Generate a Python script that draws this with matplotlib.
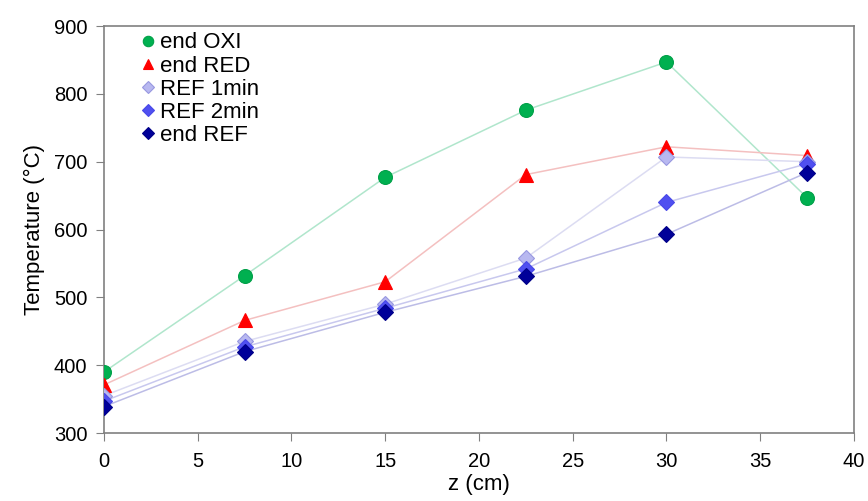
import matplotlib
matplotlib.use("Agg")
import matplotlib.pyplot as plt

plt.rcParams['font.family'] = ['Liberation Sans', 'DejaVu Sans']

z_cm = [0, 7.5, 15, 22.5, 30, 37.5]
end_oxi = [390, 532, 677, 776, 847, 647]
end_red = [371, 466, 523, 681, 722, 709]
ref_1min = [355, 435, 490, 558, 707, 700]
ref_2min = [347, 427, 484, 542, 640, 697]
end_ref = [339, 420, 478, 531, 593, 684]

series = [
    ('end OXI', end_oxi, 'o', '#00b050', '#00a048', '#b0e6cc', 10),
    ('end RED', end_red, '^', '#ff0000', '#ff0000', '#f4c0c0', 10),
    ('REF 1min', ref_1min, 'D', '#b8b8f0', '#9898e0', '#dcdcf2', 8),
    ('REF 2min', ref_2min, 'D', '#5050f0', '#4848e8', '#c8c8ee', 8),
    ('end REF', end_ref, 'D', '#000099', '#000088', '#bcbce6', 8),
]

fig = plt.figure(figsize=(8.68, 5.01), dpi=100)
ax = fig.add_axes([0.1198, 0.1357, 0.864, 0.8123])

for label, vals, mk, fc, ec, lc, ms in series:
    ax.plot(z_cm, vals, color=lc, lw=1.1, zorder=1)
    ax.plot(z_cm, vals, linestyle='none', marker=mk, markersize=ms,
            markerfacecolor=fc, markeredgecolor=ec, markeredgewidth=0.8,
            label=label, zorder=3)

ax.set_xlim(0, 40)
ax.set_ylim(300, 900)
ax.set_xticks(range(0, 41, 5))
ax.set_yticks(range(300, 901, 100))
ax.set_xlabel('z (cm)', fontsize=16, labelpad=2)
ax.set_ylabel('Temperature (°C)', fontsize=16, labelpad=6)
ax.tick_params(axis='both', labelsize=14.5, color='#808080', length=6, direction='out')
ax.tick_params(axis='x', pad=8)
ax.tick_params(axis='y', pad=6)
ax.xaxis.set_ticks_position('bottom')
ax.yaxis.set_ticks_position('left')
for s in ax.spines.values():
    s.set_color('#808080')
    s.set_linewidth(1.2)

ax.legend(loc='upper left', bbox_to_anchor=(0.03, 1.012), frameon=False,
          fontsize=16, handletextpad=0.1, handlelength=0.9, labelspacing=0.1,
          borderaxespad=0.1, markerscale=0.75)

fig.savefig('out.png', dpi=100)
